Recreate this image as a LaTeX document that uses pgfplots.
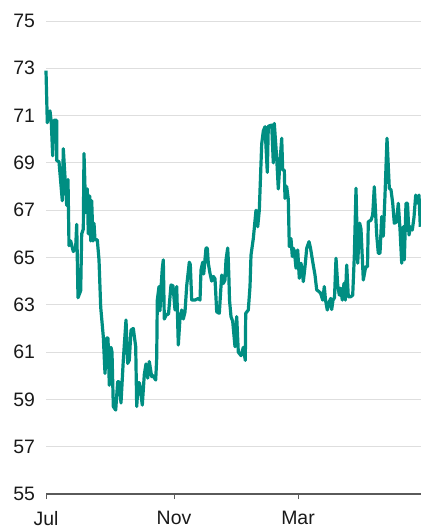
\documentclass[border=0pt]{standalone}
\usepackage{pgfplots}
\pgfplotsset{compat=1.18}
\usepackage{fontspec}
\setmainfont{Liberation Sans}
\definecolor{teal1}{RGB}{0,142,130}
\definecolor{gridc}{RGB}{222,222,222}
\definecolor{axc}{RGB}{90,90,90}
\definecolor{txt}{RGB}{25,25,25}
\begin{document}
\begin{tikzpicture}
\begin{axis}[
  scale only axis,
  width=375bp, height=473bp,
  xmin=0, xmax=375, ymin=55, ymax=75,
  axis x line*=bottom, axis y line*=left,
  y axis line style={draw=none},
  x axis line style={draw=axc, line width=1.2bp},
  ytick={55,57,...,75},
  xtick={0,128,252},
  xticklabels={Jul,Nov,Mar},
  tick align=outside,
  major tick length=5bp,
  xtick style={draw=axc, line width=1bp},
  ytick style={draw=none},
  ymajorgrids,
  grid style={draw=gridc, line width=0.9bp},
  tick label style={font=\fontsize{19.5}{23}\selectfont, text=txt},
  /pgf/number format/assume math mode=true,
  xticklabel style={yshift=-9bp},
  yticklabel style={xshift=-2.5bp},
  clip=false,
]
\addplot[teal1, line width=3.2bp, line join=round] coordinates {
(0,72.9) (1.3,70.7) (4,71.2) (5.3,70.7) (6.7,69.3) (8,70.8) (10.7,70.8) (10.7,69.1)
(13,69.05) (16.3,67.4) (17.3,69.6) (20.7,67.2) (22,68.3) (23,65.5) (24.7,65.7)
(27.3,65.25) (29.7,65.45) (30.7,66.4) (32,63.3) (34.7,63.6) (35.7,66.0) (37.3,66.2)
(38,69.4) (39.7,66.9) (41.3,67.9) (42.3,66.0) (43.7,67.6) (44.7,65.7) (45.7,67.4)
(47,65.7) (48,66.45) (49,65.75) (51.3,65.75) (53,64.9) (54.7,62.9) (57.3,61.65)
(59,60.1) (60.7,61.6) (62,61.6) (63.3,59.6) (65,61.2) (66,61.0) (67.3,58.7)
(69.7,58.55) (71.7,59.75) (73,59.75) (75,58.85) (77.3,60.66) (80,62.36) (81.7,60.52)
(83.3,60.66) (85,61.93) (87.3,62.0) (89.7,61.23) (90.7,58.7) (92.3,59.7) (93.5,59.7)
(96.3,58.76) (98.3,60.05) (100,60.5) (101.7,59.9) (103.3,60.6) (105.7,59.96) (107,60.0)
(109.7,59.82) (110.7,60.74) (111.3,63.2) (113,63.77) (114,62.75) (115,63.7) (116.3,64.54)
(117.3,64.9) (118.3,62.4) (120.7,62.6) (122.5,62.6) (125,63.84) (127,63.8) (129,62.78)
(130.7,63.77) (132.3,61.3) (134,62.43) (135.7,62.78) (137.3,62.4) (139,62.7) (140.7,63.8)
(143.3,64.8) (144.3,64.7) (145.7,63.2) (149,63.2) (152.3,63.27) (154,63.2) (155,64.47)
(156.7,64.8) (157.7,64.3) (160,65.4) (161.3,65.4) (162.3,64.76) (164,64.33) (165.7,64.0)
(167.3,64.2) (169,64.1) (170.7,62.7) (173.3,62.64) (175.7,64.26) (177.3,63.9) (179,64.05)
(180,64.9) (181.7,65.4) (182.3,64.9) (183,64.0) (183.5,63.2) (185,62.5) (186.7,62.3)
(189,61.23) (190.7,62.5) (192.3,61.0) (195,60.85) (197.3,61.2) (199.3,60.65) (199.7,62.64)
(202.3,62.78) (204,63.77) (205,65.1) (207.3,65.8) (210,67.0) (211.7,66.3) (213.3,67.0)
(215.7,69.8) (217.3,70.35) (219,70.53) (221.3,68.6) (222.3,70.55) (225.7,70.6) (227.3,69.0)
(228.3,70.67) (230.7,69.2) (232.3,67.9) (234,69.05) (235.7,70.04) (236.7,68.7) (238.3,68.7)
(239,67.5) (240.7,68.0) (242.3,67.45) (243.3,65.46) (245,65.8) (246.3,65.04) (247,65.4)
(248.3,65.3) (250,64.55) (251.7,65.32) (253.3,64.12) (255,64.76) (256.3,64.4) (257.3,63.98)
(259,64.61) (260.7,65.39) (263,65.67) (264.5,65.4) (266.7,64.82) (269,64.26) (270.7,63.63)
(273,63.56) (274.5,63.5) (276.7,63.2) (278.3,63.77) (279.5,63.2) (281.3,62.78) (283,63.1)
(284.7,63.27) (285.7,62.8) (287,63.2) (288.5,63.3) (290,64.97) (291.7,63.84) (293.3,63.41)
(294.7,63.7) (296.3,63.2) (298,63.91) (299.3,63.2) (300.7,64.68) (302.3,63.34) (304.7,63.34)
(306.7,63.41) (308.3,65.04) (309.3,66.7) (310,67.93) (311.7,64.76) (313.7,66.45) (315,66.2)
(317.3,64.05) (319.7,64.61) (321.5,64.61) (322.3,66.51) (325,66.58) (326.7,66.8) (328.3,67.99)
(330.7,65.95) (332.3,65.18) (334,65.18) (335.7,66.73) (337.3,65.9) (339,67.64) (341,70.04)
(343.3,67.93) (345,67.86) (346.7,67.3) (348.3,66.45) (350.5,66.5) (352.3,67.29) (354,66.2)
(355.7,64.76) (357.3,66.3) (358.3,64.9) (360,67.29) (361.5,67.29) (363,65.95) (364.5,66.3)
(366.3,66.16) (368,66.7) (369.7,67.64) (371.5,67.3) (373,67.64) (374.3,66.3)
};
\coordinate (o) at (rel axis cs:0,0);
\end{axis}
\pgfresetboundingbox
\path (o) ++(-46bp,-36bp) rectangle ++(421bp,530bp);
\end{tikzpicture}
\end{document}
